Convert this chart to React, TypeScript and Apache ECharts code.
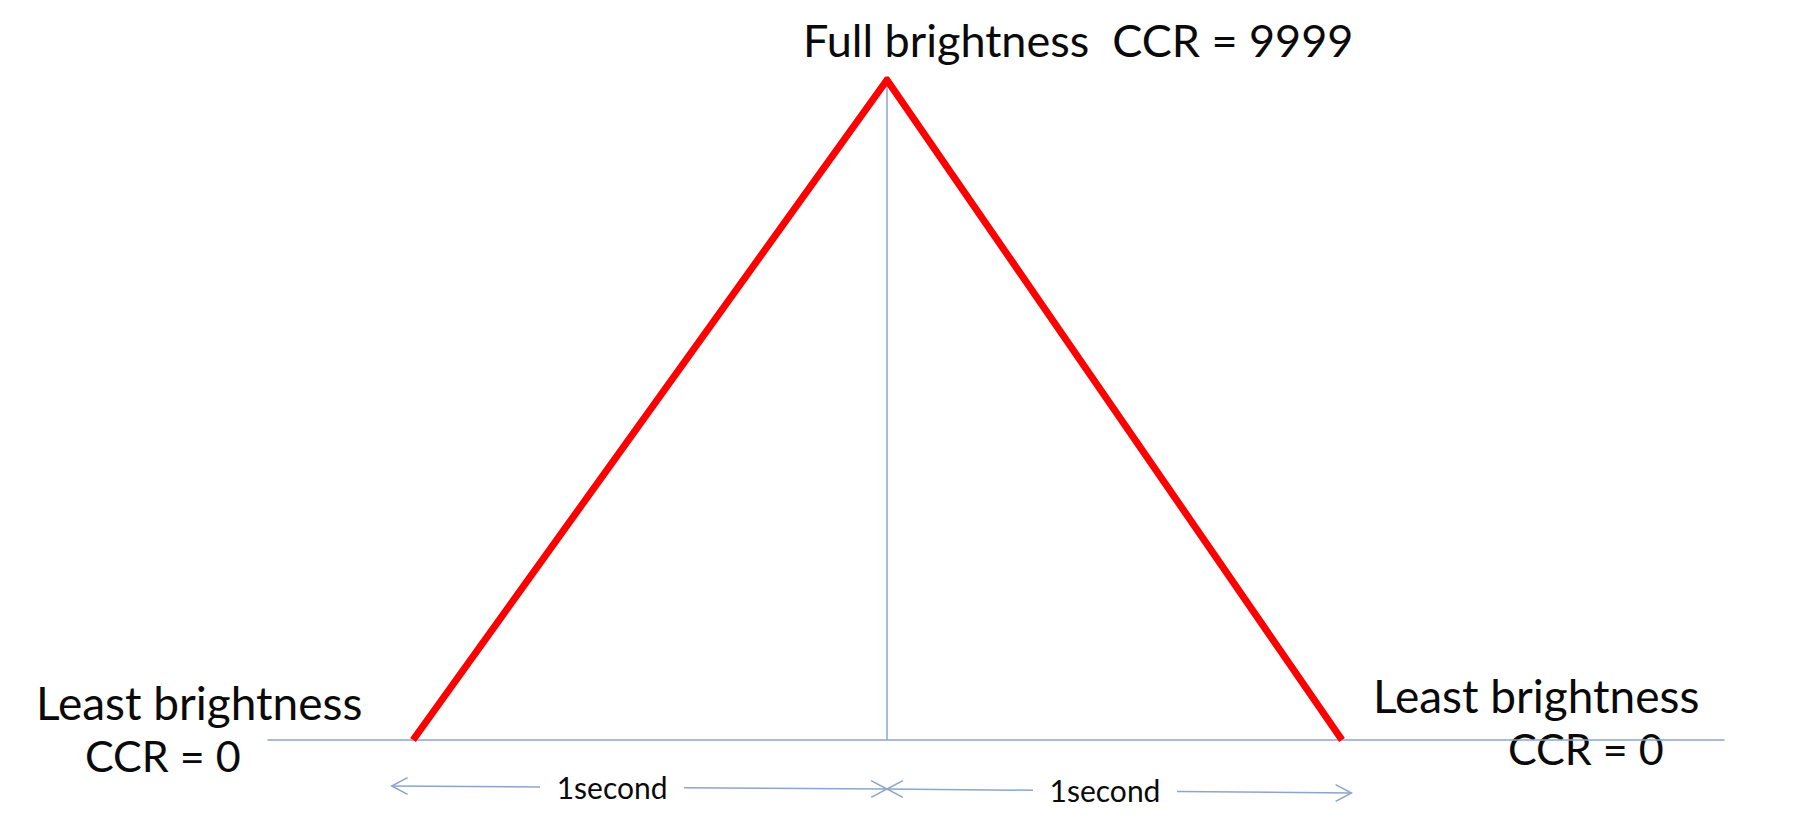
import React, { useEffect, useRef } from 'react';
import * as echarts from 'echarts';

// Time (seconds) and CCR value at each vertex of the brightness ramp
const timeSec = [0, 1, 1.96];
const ccrValues = [0, 9999, 0];
const peakTime = 1;
const ccrMax = 9999;
const axisRange = [-0.306, 2.766];

// Annotations
const topLabel = 'Full brightness  CCR = 9999';
const leastLabel = ['Least brightness', 'CCR = 0'];
const spanLabel = '1second';
const spanStarts = [-0.045, 1];
const spanEnds = [1, 1.98];
const spanLabelCenters = [0.42, 1.46];

const BLUE = '#8DA5CB';
const RED = '#FF0000';
const TEXT = '#0a0a0a';
const FONT = 'Lato, "Open Sans", sans-serif';

export default function App() {
  const ref = useRef<HTMLDivElement>(null);

  useEffect(() => {
    document.body.style.margin = '0';
    const chart = echarts.init(ref.current!, undefined, { renderer: 'svg' });
    chart.setOption({
      animation: false,
      backgroundColor: '#ffffff',
      grid: { left: 268, right: 94, top: 80, bottom: 96 },
      xAxis: {
        type: 'value',
        min: axisRange[0],
        max: axisRange[1],
        axisLine: { show: true, onZero: false, lineStyle: { color: BLUE, width: 1.5 } },
        axisTick: { show: false },
        axisLabel: { show: false },
        splitLine: { show: false },
      },
      yAxis: {
        type: 'value',
        min: 0,
        max: ccrMax,
        show: false,
      },
      series: [
        {
          type: 'line',
          z: 1,
          data: [
            [peakTime, 0],
            [peakTime, ccrMax],
          ],
          symbol: 'none',
          lineStyle: { color: BLUE, width: 1.5 },
          silent: true,
        },
        {
          type: 'line',
          z: 2,
          data: timeSec.map((t, i) => [t, ccrValues[i]]),
          symbol: 'none',
          lineStyle: { color: RED, width: 7, join: 'miter', cap: 'butt' },
          silent: true,
        },
      ],
    });

    const px = (t: number) => chart.convertToPixel({ xAxisIndex: 0 }, t) as number;
    const baseY = chart.convertToPixel({ yAxisIndex: 0 }, 0) as number;

    const graphics: any[] = [];
    const arrowY = [
      [baseY + 46, baseY + 49],
      [baseY + 49, baseY + 53],
    ];
    const labelY = [baseY + 47, baseY + 50];
    const head = (tx: number, ty: number, dir: number) => {
      const len = 18;
      const ang = (28 * Math.PI) / 180;
      return {
        type: 'polyline',
        shape: {
          points: [
            [tx - dir * len * Math.cos(ang), ty - len * Math.sin(ang)],
            [tx, ty],
            [tx - dir * len * Math.cos(ang), ty + len * Math.sin(ang)],
          ],
        },
        style: { stroke: BLUE, lineWidth: 1.5, fill: null },
      };
    };
    spanStarts.forEach((s, i) => {
      const x0 = px(s);
      const x1 = px(spanEnds[i]);
      const cx = px(spanLabelCenters[i]);
      const [y0, y1] = arrowY[i];
      const gap = 72;
      const yAt = (x: number) => y0 + ((y1 - y0) * (x - x0)) / (x1 - x0);
      graphics.push({
        type: 'line',
        shape: { x1: x0, y1: y0, x2: cx - gap, y2: yAt(cx - gap) },
        style: { stroke: BLUE, lineWidth: 1.5 },
      });
      graphics.push({
        type: 'line',
        shape: { x1: cx + gap, y1: yAt(cx + gap), x2: x1, y2: y1 },
        style: { stroke: BLUE, lineWidth: 1.5 },
      });
      graphics.push(head(x0, y0, -1));
      graphics.push(head(x1, y1, 1));
      graphics.push({
        type: 'text',
        x: cx,
        y: labelY[i],
        style: {
          text: spanLabel,
          font: `30px ${FONT}`,
          fill: TEXT,
          align: 'center',
          verticalAlign: 'middle',
        },
      });
    });

    const txt = (text: string, x: number, y: number, size: number) => ({
      type: 'text',
      x,
      y,
      style: { text, font: `${size}px ${FONT}`, fill: TEXT, align: 'left', verticalAlign: 'middle' },
    });
    graphics.push(txt(topLabel, 803, 40, 45));
    graphics.push(txt(leastLabel[0], 36, 702, 46));
    graphics.push(txt(leastLabel[1], 85, 755, 43));
    graphics.push(txt(leastLabel[0], 1373, 695, 46));
    graphics.push(txt(leastLabel[1], 1508, 748, 43));

    chart.setOption({ graphic: graphics });

    return () => chart.dispose();
  }, []);

  return <div ref={ref} style={{ width: 1818, height: 836 }} />;
}
